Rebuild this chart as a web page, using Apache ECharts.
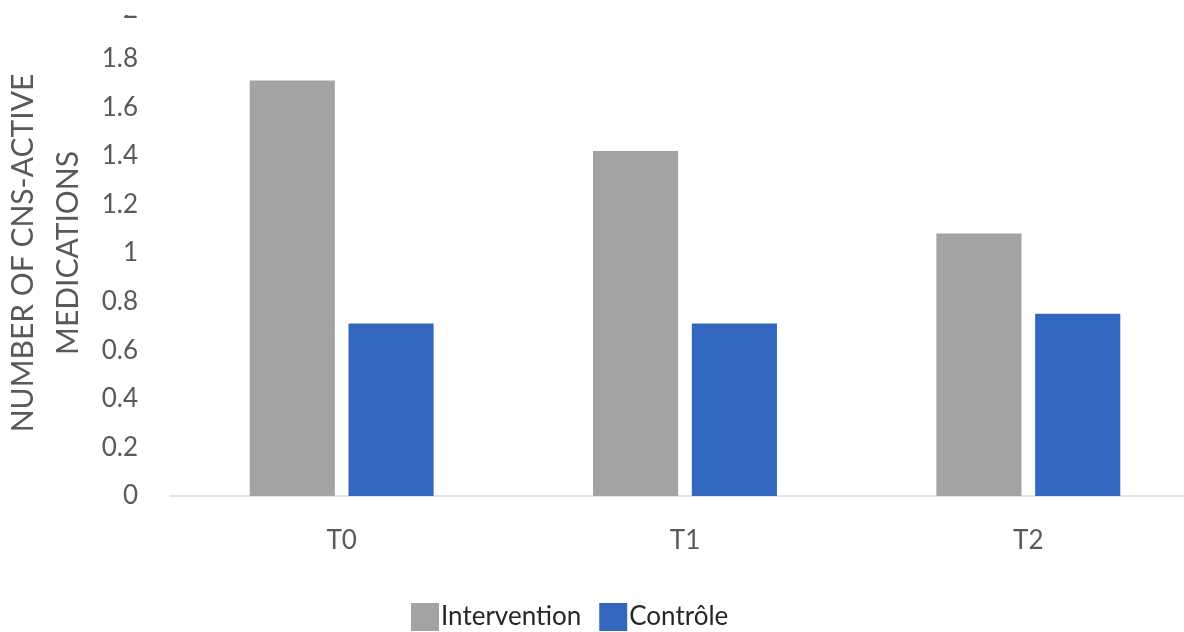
<!DOCTYPE html>
<html>
<head>
<meta charset="utf-8">
<script src="https://cdn.jsdelivr.net/npm/echarts@6/dist/echarts.min.js"></script>
<style>html,body{margin:0;padding:0;background:#fff}#c{width:1184px;height:632px}</style>
</head>
<body>
<div id="c"></div>
<script>
const categories = ['T0', 'T1', 'T2'];
const intervention = [1.71, 1.42, 1.08];
const controle = [0.71, 0.71, 0.75];
const seriesNames = ['Intervention', 'Contrôle'];
const yAxisName = 'NUMBER OF CNS-ACTIVE\nMEDICATIONS';

const chart = echarts.init(document.getElementById('c'));
const font = 'Lato, "Open Sans", sans-serif';
chart.setOption({
  animation: false,
  grid: { left: 170, right: -16, top: 10, bottom: 136, containLabel: false, outerBoundsMode: 'none' },
  legend: {
    data: seriesNames,
    bottom: -4,
    left: 406,
    itemWidth: 28,
    itemHeight: 28,
    itemGap: 18,
    icon: 'rect',
    textStyle: { fontFamily: font, fontSize: 26, color: '#262626', padding: [0, 0, 0, -3] }
  },
  xAxis: {
    type: 'category',
    data: categories,
    axisLine: { lineStyle: { color: '#d9d9d9', width: 1.5 } },
    axisTick: { show: false },
    axisLabel: { fontFamily: font, fontSize: 26, color: '#595959', margin: 32 }
  },
  yAxis: {
    type: 'value',
    min: 0, max: 2, interval: 0.2,
    name: yAxisName,
    nameLocation: 'middle',
    nameGap: 74,
    nameTextStyle: { fontFamily: font, fontSize: 30, color: '#595959', lineHeight: 45 },
    axisLine: { show: false },
    axisTick: { show: false },
    splitLine: { show: false },
    axisLabel: {
      fontFamily: font, fontSize: 26, color: '#595959', margin: 32,
      formatter: v => String(Math.round(v * 10) / 10)
    }
  },
  series: [
    { name: seriesNames[0], type: 'bar', data: intervention, barWidth: '24.8%', barGap: '16%',
      itemStyle: { color: '#a3a3a3' } },
    { name: seriesNames[1], type: 'bar', data: controle, barWidth: '24.8%',
      itemStyle: { color: '#3468c0' } }
  ],
  graphic: [
    { type: 'rect', left: 90, top: 0, z: 100, shape: { width: 70, height: 15 }, style: { fill: '#fff' } }
  ]
});
</script>
</body>
</html>
